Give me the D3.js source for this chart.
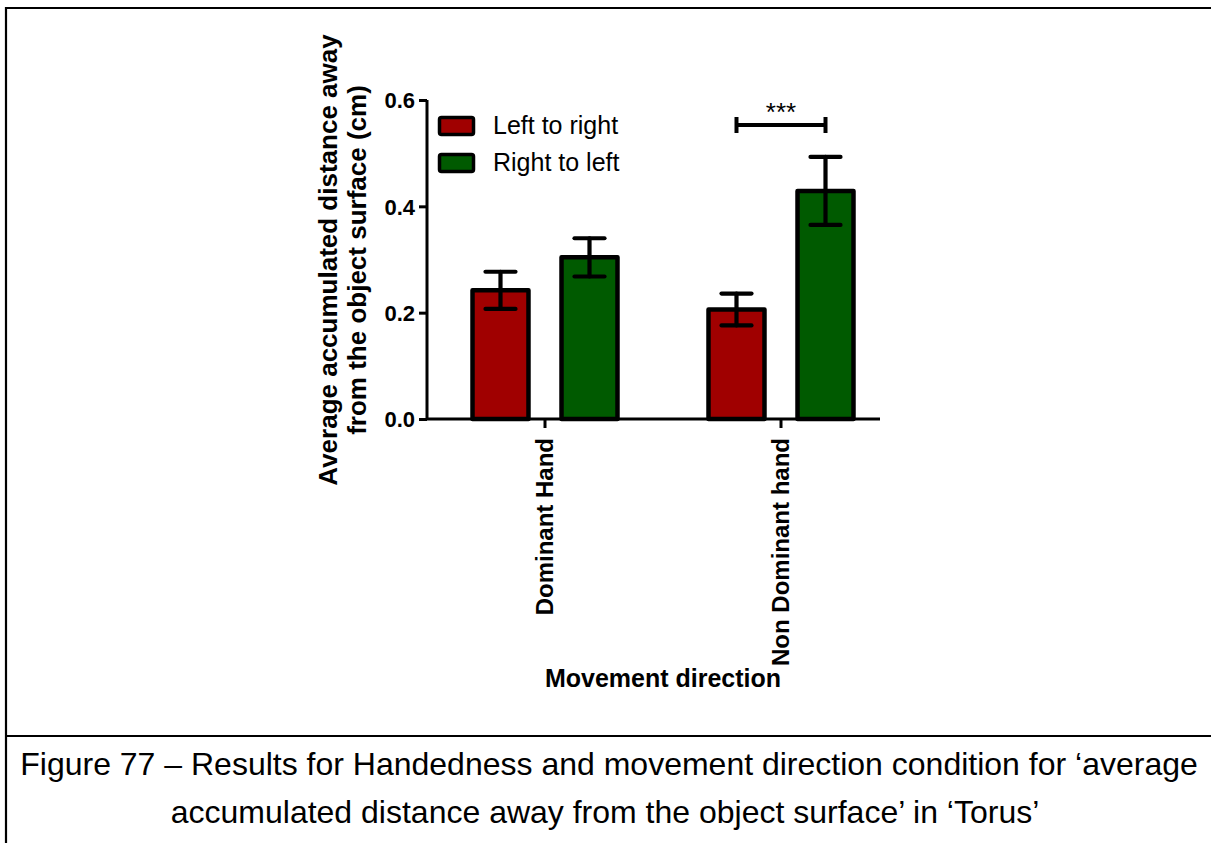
<!DOCTYPE html>
<html>
<head>
<meta charset="utf-8">
<script src="https://cdn.jsdelivr.net/npm/d3@7"></script>
<style>
  html, body { margin: 0; padding: 0; background: #fff; }
  svg { display: block; }
  text { font-family: "Liberation Sans", Arial, sans-serif; }
</style>
</head>
<body>
<svg id="chart" width="1211" height="843"></svg>
<script>
// ---- data ----
const groups = ["Dominant Hand", "Non Dominant hand"];
const series = ["Left to right", "Right to left"];
const colors = ["#a00000", "#005a00"];
const means = [[0.242, 0.304], [0.206, 0.429]];   // [group][series]
const errors = [[0.035, 0.036], [0.030, 0.064]];
const yTicks = [0.0, 0.2, 0.4, 0.6];
const yTickLabels = ["0.0", "0.2", "0.4", "0.6"];
const yTitle = ["Average accumulated distance away", "from the object surface (cm)"];
const xTitle = "Movement direction";
const sigLabel = "***";
const sigLevel = 0.553;
const caption = ["Figure 77 \u2013 Results for Handedness and movement direction condition for \u2018average",
                 "accumulated distance away from the object surface\u2019 in \u2018Torus\u2019"];

const svg = d3.select("#chart");

// frame
svg.append("path")
  .attr("d", "M6,843 L6,8 L1211,8 M6,736 L1211,736")
  .attr("fill", "none").attr("stroke", "#000").attr("stroke-width", 2.2);

// scales
const y = d3.scaleLinear().domain([0, 0.6]).range([419, 100]);
const x0 = d3.scaleBand().domain(groups).range([427, 899]);
const x1 = d3.scaleBand().domain(series).range([-74.5, 74.5]).paddingInner(0.326);

// y axis
const yAxis = svg.append("g").attr("transform", "translate(427,0)")
  .call(d3.axisLeft(y).tickValues(yTicks).tickFormat((d, i) => yTickLabels[i]).tickSize(8).tickPadding(4));
yAxis.attr("font-size", null).attr("font-family", null);
yAxis.select(".domain").attr("stroke-width", 3).attr("d", "M0," + y(0.6) + "V" + y(0));
yAxis.selectAll(".tick line").attr("stroke-width", 3);
yAxis.selectAll(".tick text")
  .attr("style", "font-size:22px;font-weight:bold;font-family:'Liberation Sans',Arial,sans-serif")
  .attr("fill", "#000").attr("dy", "0.36em");

// x axis
const xAxis = svg.append("g").attr("transform", "translate(0," + y(0) + ")")
  .call(d3.axisBottom(x0).tickSize(9).tickSizeOuter(0).tickFormat(""));
xAxis.select(".domain").attr("stroke-width", 3).attr("d", "M427,0H880");
xAxis.selectAll(".tick line").attr("stroke-width", 3);

// x tick labels rotated
svg.append("g").selectAll("text").data(groups).join("text")
  .attr("transform", d => "translate(" + (x0(d) + x0.bandwidth() / 2 + 8) + "," + 438 + ") rotate(-90)")
  .attr("text-anchor", "end")
  .attr("font-size", 24).attr("font-weight", "bold").attr("fill", "#000")
  .text(d => d);

// bars
const bw = x1.bandwidth();
groups.forEach((g, gi) => {
  const cx = x0(g) + x0.bandwidth() / 2;
  series.forEach((s, si) => {
    const v = means[gi][si];
    const bx = cx + x1(s);
    svg.append("rect")
      .attr("x", bx + 2).attr("y", y(v))
      .attr("width", bw - 4).attr("height", y(0) - y(v))
      .attr("fill", colors[si]).attr("stroke", "#000").attr("stroke-width", 4.5)
      .attr("stroke-linejoin", "round");
    const mx = bx + bw / 2;
    const e = errors[gi][si];
    const eg = svg.append("g").attr("stroke", "#000").attr("stroke-width", 4.2).attr("stroke-linecap", "round");
    eg.append("line").attr("x1", mx).attr("x2", mx).attr("y1", y(v + e)).attr("y2", y(v - e));
    eg.append("line").attr("x1", mx - 15).attr("x2", mx + 15).attr("y1", y(v + e)).attr("y2", y(v + e));
    eg.append("line").attr("x1", mx - 15).attr("x2", mx + 15).attr("y1", y(v - e)).attr("y2", y(v - e));
  });
});

// significance bracket (group 2)
{
  const g = groups[1];
  const cx = x0(g) + x0.bandwidth() / 2;
  const xa = cx + x1(series[0]) + bw / 2;
  const xb = cx + x1(series[1]) + bw / 2;
  const yy = y(sigLevel);
  const sg = svg.append("g").attr("stroke", "#000").attr("stroke-width", 4);
  sg.append("line").attr("x1", xa).attr("x2", xb).attr("y1", yy).attr("y2", yy);
  sg.append("line").attr("x1", xa).attr("x2", xa).attr("y1", yy - 8).attr("y2", yy + 8);
  sg.append("line").attr("x1", xb).attr("x2", xb).attr("y1", yy - 8).attr("y2", yy + 8);
  svg.append("text").attr("x", (xa + xb) / 2).attr("y", yy - 4)
    .attr("text-anchor", "middle").attr("font-size", 26).attr("fill", "#000").text(sigLabel);
}

// legend
const lg = svg.append("g");
series.forEach((s, i) => {
  const ly = 116 + i * 37;
  lg.append("rect").attr("x", 439.5).attr("y", ly + 1.5).attr("width", 34).attr("height", 17)
    .attr("rx", 2).attr("fill", colors[i]).attr("stroke", "#000").attr("stroke-width", 3.5);
  lg.append("text").attr("x", 493).attr("y", ly + 18).attr("font-size", 25).attr("fill", "#000").text(s);
});

// y title
const yt = svg.append("g").attr("transform", "translate(0,260)");
yTitle.forEach((t, i) => {
  yt.append("text").attr("transform", "translate(" + (337 + i * 29) + ",0) rotate(-90)")
    .attr("text-anchor", "middle").attr("font-size", 26).attr("font-weight", "bold").attr("fill", "#000").text(t);
});

// x title
svg.append("text").attr("x", 663).attr("y", 687).attr("text-anchor", "middle")
  .attr("font-size", 25).attr("font-weight", "bold").attr("fill", "#000").text(xTitle);

// caption
svg.append("text").attr("x", 609).attr("y", 775).attr("text-anchor", "middle")
  .attr("font-size", 32).attr("fill", "#000").text(caption[0]);
svg.append("text").attr("x", 605).attr("y", 823).attr("text-anchor", "middle")
  .attr("font-size", 32).attr("fill", "#000").text(caption[1]);
</script>
</body>
</html>
